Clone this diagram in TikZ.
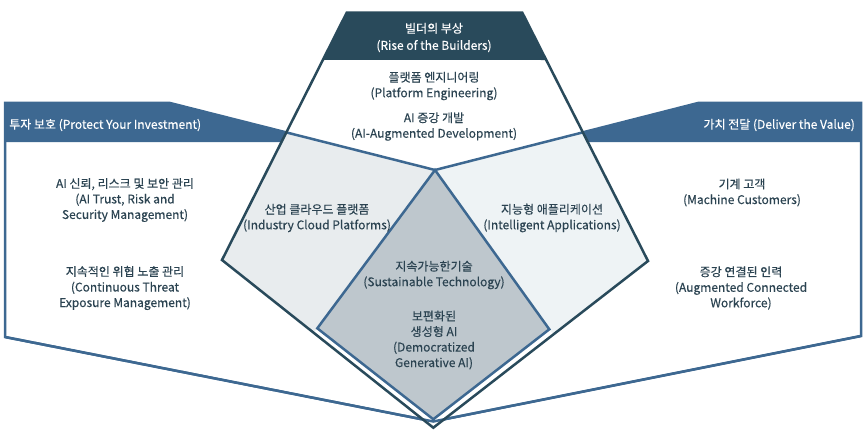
\documentclass[tikz,border=0pt]{standalone}
\usepackage{fontspec}
\setmainfont{Noto Sans CJK KR}[FakeBold=0.3]
\usetikzlibrary{calc}
\definecolor{darkteal}{HTML}{294A5B}
\definecolor{panelblue}{HTML}{3D6891}
\definecolor{lgL}{HTML}{E8ECEE}
\definecolor{lgR}{HTML}{EEF3F5}
\definecolor{dgray}{HTML}{BEC7CD}
\definecolor{txt}{HTML}{2B4351}
\begin{document}
\begin{tikzpicture}[x=1pt,y=-1pt,
  line join=miter,
  bluepen/.style={draw=panelblue,line width=2.5pt},
  darkpen/.style={draw=darkteal,line width=2.5pt},
  block/.style={align=center,text=txt,inner sep=0pt,
    font=\fontsize{12}{15.5}\selectfont},
  hdr/.style={text=white,inner sep=0pt,font=\fontsize{12}{17}\selectfont},
]
\useasboundingbox (0,0) rectangle (866,441);
% key points
\coordinate (T1) at (346.7,12.7);
\coordinate (T2) at (522.3,12.7);
\coordinate (LV) at (222,260);
\coordinate (RV) at (648,261);
\coordinate (BT) at (433.3,427.7);
\coordinate (AP) at (435,170);
\coordinate (BB) at (433.3,421.5);
\coordinate (DL) at (317.3,328.3);
\coordinate (DR) at (549.3,329.3);
\coordinate (DB) at (433.3,419.3);
\coordinate (LP1) at (5,103);
\coordinate (LP2) at (170,103);
\coordinate (LP3) at (5,337);
\coordinate (RP1) at (861,103);
\coordinate (RP2) at (698,103);
\coordinate (RP3) at (861,336);
\coordinate (CL) at (intersection of T1--LV and LP2--AP);
\coordinate (CR) at (intersection of T2--RV and RP2--AP);
\coordinate (QL) at ($(LV)!0.434!(BT)$);
\coordinate (QR) at ($(RV)!0.441!(BT)$);
\coordinate (HL) at ($(T1)!0.191!(LV)$);
\coordinate (HR) at ($(T2)!0.1905!(RV)$);
\coordinate (EL) at ($(T1)!0.523!(LV)$);
\coordinate (ER) at ($(T2)!0.521!(RV)$);

% side panels
\path[fill=white,bluepen] (LP1)--(LP2)--(AP)--(BB)--(LP3)--cycle;
\path[fill=white,bluepen] (RP1)--(RP2)--(AP)--(BB)--(RP3)--cycle;
\fill[panelblue] (LP1)--(LP2)--(CL)--(EL)--(5,142)--cycle;
\fill[panelblue] (RP1)--(RP2)--(CR)--(ER)--(861,142)--cycle;

% top panel
\fill[white] (T1)--(T2)--(RV)--(BT)--(LV)--cycle;
\fill[darkteal] (T1)--(T2)--(HR)--(HL)--cycle;

% overlap regions
\fill[lgL] (CL)--(LV)--(QL)--(DL)--(AP)--cycle;
\fill[lgR] (CR)--(RV)--(QR)--(DR)--(AP)--cycle;

% blue edges over top panel
\draw[bluepen] (CL)--(AP)--(CR);
\draw[bluepen] (LP3)--(BB)--(RP3);

% centre diamond
\path[fill=dgray,bluepen] (AP)--(DR)--(DB)--(DL)--cycle;

% top panel outline
\draw[darkpen] (T1)--(T2)--(RV)--(BT)--(LV)--cycle;

% headers
\node[hdr,align=center] (hTop) at (434,37.5) {빌더의 부상\\(Rise of the Builders)};
\node[hdr,anchor=west] (hLeft) at (9,125) {투자 보호 (Protect Your Investment)};
\node[hdr,anchor=east] (hRight) at (855,125) {가치 전달 (Deliver the Value)};

% top panel body
\node[block] (pe) at (434,86) {플랫폼 엔지니어링\\(Platform Engineering)};
\node[block] (aid) at (434,126.5) {AI 증강 개발\\(AI-Augmented Development)};

% left panel body
\node[block] (trism) at (125,200) {AI 신뢰, 리스크 및 보안 관리\\(AI Trust, Risk and\\Security Management)};
\node[block] (ctem) at (125,288) {지속적인 위협 노출 관리\\(Continuous Threat\\Exposure Management)};

% right panel body
\node[block] (mc) at (742,192.5) {기계 고객\\(Machine Customers)};
\node[block] (acw) at (741,288) {증강 연결된 인력\\(Augmented Connected\\Workforce)};

% overlaps
\node[block] (icp) at (317,218) {산업 클라우드 플랫폼\\(Industry Cloud Platforms)};
\node[block] (ia) at (552,218) {지능형 애플리케이션\\(Intelligent Applications)};
\node[block] (st) at (434,275) {지속가능한기술\\(Sustainable Technology)};
\node[block] (dga) at (434,340) {보편화된\\생성형 AI\\(Democratized\\Generative AI)};
\end{tikzpicture}
\end{document}
